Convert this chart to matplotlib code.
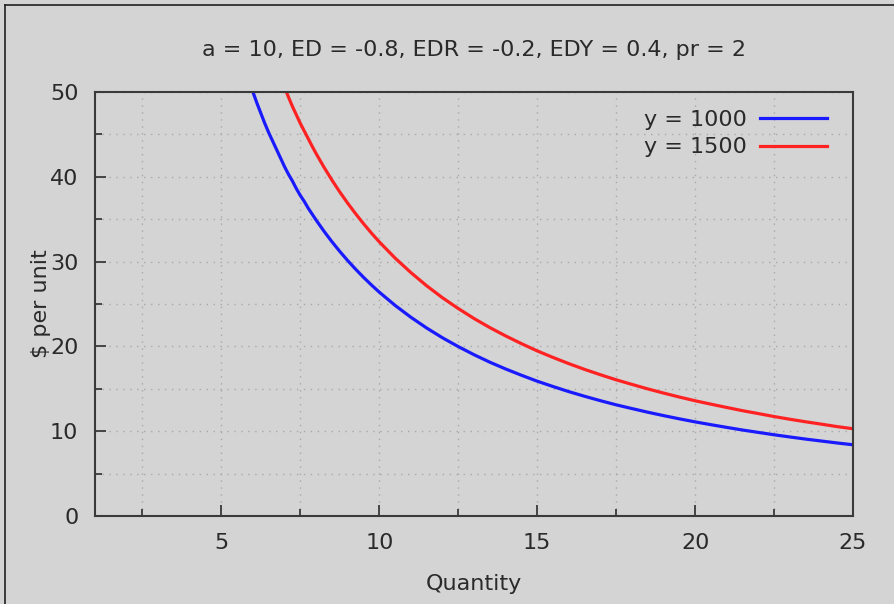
import numpy as np
import matplotlib
matplotlib.use('Agg')
import matplotlib.pyplot as plt
from matplotlib.lines import Line2D
from matplotlib.ticker import MultipleLocator

plt.rcParams['font.family'] = 'DejaVu Sans'

# values
q_low = [6.0, 6.125, 6.25, 6.375, 6.5, 6.625, 6.75, 6.875, 7.0, 7.125, 7.25, 7.375,
         7.5, 7.625, 7.75, 7.875, 8.0, 8.25, 8.5, 8.75, 9.0, 9.25, 9.5, 9.75, 10,
         10.5, 11, 11.5, 12, 12.5, 13, 13.5, 14, 14.5, 15, 15.5, 16, 16.5, 17, 17.5,
         18, 18.5, 19, 19.5, 20, 20.5, 21, 21.5, 22, 22.5, 23, 23.5, 24, 24.5, 25]
p_low = [50.0, 48.7, 47.5, 46.3, 45.2, 44.2, 43.2, 42.2, 41.2, 40.3, 39.5, 38.6,
         37.8, 37.1, 36.3, 35.6, 34.90, 33.58, 32.35, 31.20, 30.12, 29.11, 28.15,
         27.25, 26.40, 24.84, 23.44, 22.17, 21.02, 19.98, 19.02, 18.14, 17.34, 16.60,
         15.90, 15.27, 14.67, 14.12, 13.60, 13.11, 12.67, 12.24, 11.84, 11.46, 11.10,
         10.77, 10.45, 10.14, 9.86, 9.58, 9.32, 9.07, 8.84, 8.61, 8.40]

q_high = [7.06, 7.125, 7.25, 7.375, 7.5, 7.625, 7.75, 7.875, 8.0, 8.25, 8.5, 8.75,
          9.0, 9.25, 9.5, 9.75, 10, 10.5, 11, 11.5, 12, 12.5, 13, 13.5, 14, 14.5, 15,
          15.5, 16, 16.5, 17, 17.5, 18, 18.5, 19, 19.5, 20, 20.5, 21, 21.5, 22, 22.5,
          23, 23.5, 24, 24.5, 25]
p_high = [50.0, 49.4, 48.3, 47.3, 46.3, 45.4, 44.5, 43.6, 42.74, 41.13, 39.62, 38.21,
          36.89, 35.65, 34.48, 33.37, 32.33, 30.42, 28.71, 27.15, 25.74, 24.47, 23.29,
          22.22, 21.24, 20.33, 19.47, 18.70, 17.97, 17.29, 16.66, 16.06, 15.52, 14.99,
          14.50, 14.03, 13.59, 13.19, 12.80, 12.42, 12.08, 11.73, 11.41, 11.11, 10.83,
          10.54, 10.29]

labels = ['y = 1000', 'y = 1500']
title = 'a = 10, ED = -0.8, EDR = -0.2, EDY = 0.4, pr = 2'

bg = '#d4d4d4'
dark = '#3a3a3a'
txt = '#2a2a2a'

fig = plt.figure(figsize=(8.94, 6.04), dpi=100, facecolor=bg)
ax = fig.add_axes([0.1063, 0.1457, 0.8478, 0.7020])
ax.set_facecolor(bg)

ax.plot(q_low, p_low, color='#1a1aff', lw=2.3, label=labels[0])
ax.plot(q_high, p_high, color='#ff2222', lw=2.3, label=labels[1])

ax.set_xlim(1, 25)
ax.set_ylim(0, 50)
ax.xaxis.set_major_locator(MultipleLocator(5))
ax.xaxis.set_minor_locator(MultipleLocator(2.5))
ax.yaxis.set_major_locator(MultipleLocator(10))
ax.yaxis.set_minor_locator(MultipleLocator(5))

ax.grid(True, which='both', linestyle=(0, (1, 4)), color='#a8a8a8', lw=1.0)
ax.set_axisbelow(True)

for s in ax.spines.values():
    s.set_color(dark)
    s.set_linewidth(1.5)

ax.tick_params(which='major', direction='in', length=8, width=1.3, color=dark,
               labelsize=16, labelcolor=txt, pad=12)
ax.tick_params(which='minor', direction='in', length=5, width=1.3, color=dark)
ax.tick_params(axis='y', pad=12)

ax.set_xlabel('Quantity', fontsize=16, color=txt)
ax.xaxis.set_label_coords(0.5, -0.137)
ax.set_ylabel('$ per unit', fontsize=16, color=txt)
ax.yaxis.set_label_coords(-0.058, 0.5)

ax.text(0.5, 1.099, title, transform=ax.transAxes, ha='center', va='center',
        fontsize=16, color=txt)

ax.legend(loc='upper right', bbox_to_anchor=(0.977, 0.979), frameon=False,
          markerfirst=False, fontsize=16, handlelength=3.0, handletextpad=0.6,
          labelspacing=0.34, borderaxespad=0.0, labelcolor=txt)

# outer frame (left and top edges)
fig.add_artist(Line2D([0.0056, 0.0056], [0, 0.992], transform=fig.transFigure,
                      color='#202020', lw=1.2))
fig.add_artist(Line2D([0.0056, 1], [0.992, 0.992], transform=fig.transFigure,
                      color='#202020', lw=1.2))

fig.savefig('out.png', dpi=100, facecolor=bg)
